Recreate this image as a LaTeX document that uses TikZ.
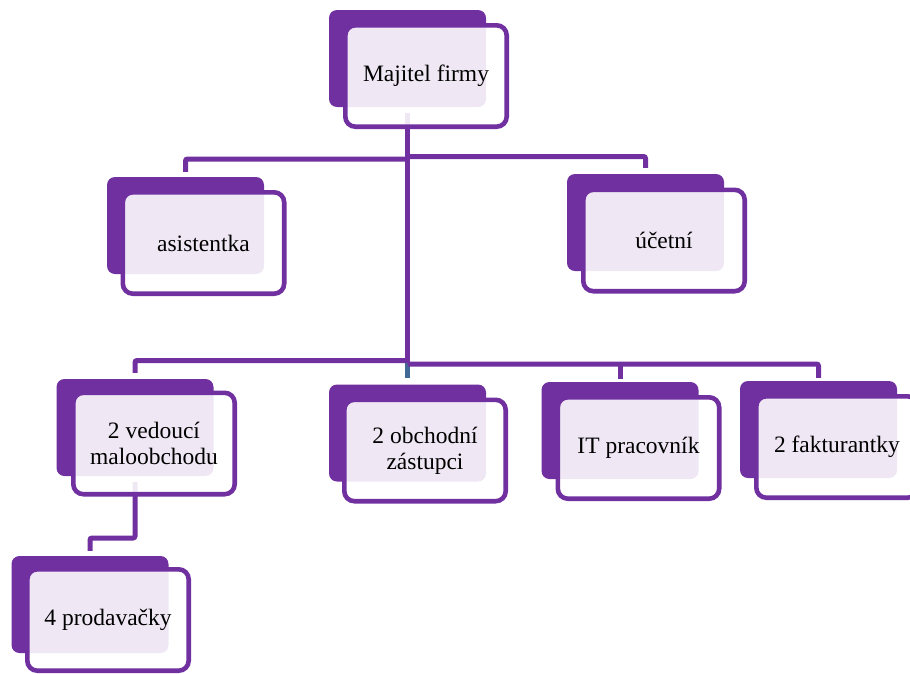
\documentclass[tikz,border=0pt]{standalone}
\usepackage{fontspec}
\setmainfont{Liberation Serif}
\usetikzlibrary{calc,backgrounds}
\definecolor{purp}{RGB}{112,48,160}
\definecolor{stubblue}{RGB}{65,105,150}
\tikzset{
  backbox/.style={fill=purp, draw=none, rounded corners=8pt, minimum width=157pt, minimum height=97pt, inner sep=0pt},
  frontbox/.style={draw=purp, line width=4.6pt, fill=white, fill opacity=0.89, text opacity=1, text=black,
    rounded corners=10pt, minimum width=161.4pt, minimum height=101.4pt, inner sep=0pt, align=center,
    font=\fontsize{23.5}{26}\selectfont},
  conn/.style={draw=purp, line width=5pt},
}
\begin{document}
\begin{tikzpicture}[x=1pt,y=-1pt]
\useasboundingbox (0,0) rectangle (910,673);
% back rectangles
\node[backbox] (mb) at (407.5,58.5) {};
\node[backbox] (ab) at (185.5,225.5) {};
\node[backbox] (ub) at (645.5,222.5) {};
\node[backbox] (vb) at (135,427.5) {};
\node[backbox] (pb) at (90,604.5) {};
\node[backbox] (ob) at (407.5,433) {};
\node[backbox] (ib) at (620,430.5) {};
\node[backbox] (fb) at (818.5,429.5) {};
% front boxes
\node[frontbox] (m) at (426,76) {Majitel firmy};
\node[frontbox] (a) at (203.5,243) {asistentka};
\node[frontbox] (u) at (664,240.5) {účetní};
\node[frontbox] (v) at (154,443.5) {2 vedoucí\\maloobchodu};
\node[frontbox] (p) at (108,620) {4 prodavačky};
\node[frontbox] (o) at (425,450.5) {2 obchodní\\zástupci};
\node[frontbox] (i) at (638.5,448) {IT pracovník};
\node[frontbox] (f) at (837,447) {2 fakturantky};
% connectors
\begin{pgfonlayer}{background}
\draw[conn] ([yshift=-6pt]mb.south) -- (mb.south |- 0,363);
\draw[draw=stubblue, line width=5pt] (mb.south |- 0,363) -- ([yshift=6pt]ob.north);
\draw[conn, rounded corners=2pt] (mb.south |- 0,159) -| ([yshift=5pt]ab.north);
\draw[conn, rounded corners=2pt] (mb.south |- 0,156.5) -| ([yshift=6pt]ub.north);
\draw[conn, rounded corners=2pt] (mb.south |- 0,360.5) -| ([yshift=6pt]vb.north);
\draw[conn, rounded corners=2pt] (mb.south |- 0,364) -| ([yshift=3pt]fb.north);
\draw[conn] (ib.north |- 0,364) -- ([yshift=3pt]ib.north);
\draw[conn, rounded corners=2pt] ([yshift=-6pt]vb.south) -- (vb.south |- 0,538) -| ([yshift=5pt]pb.north);
\end{pgfonlayer}
\end{tikzpicture}
\end{document}
